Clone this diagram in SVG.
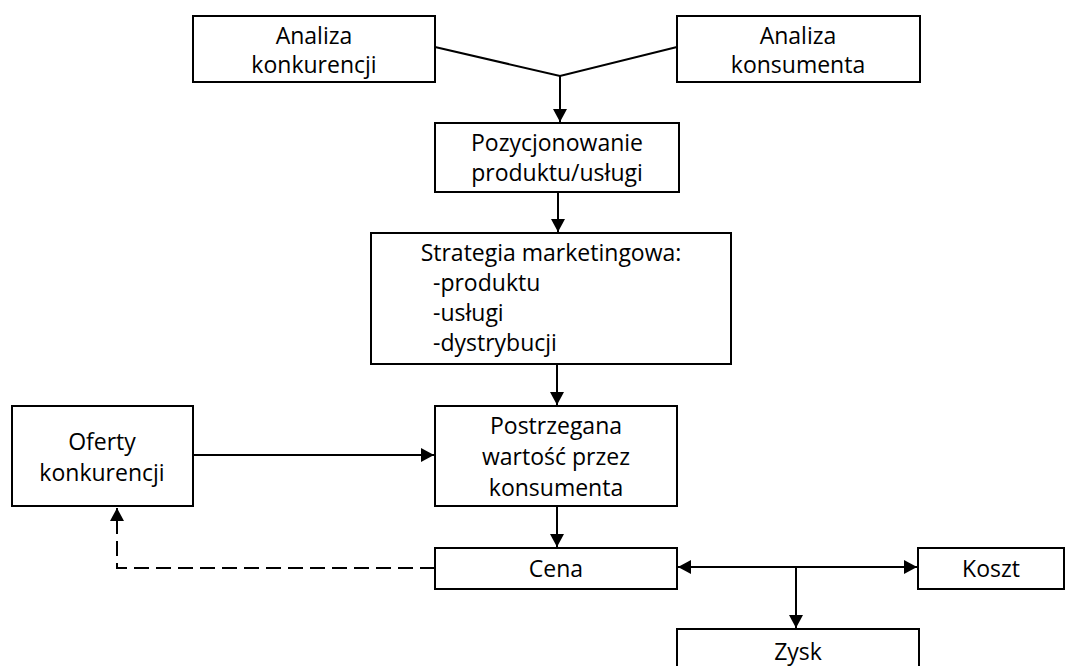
<svg xmlns="http://www.w3.org/2000/svg" width="1077" height="666" viewBox="0 0 1077 666">
  <style>
    .box { fill: #ffffff; stroke: #000000; stroke-width: 2; }
    .lbl { font-family: "Open Sans", Lato, "Liberation Sans", sans-serif; font-size: 23px; fill: #000000; text-anchor: middle; }
    .lft { text-anchor: start; }
    .ln { fill: none; stroke: #000000; stroke-width: 2; }
    .dash { stroke-dasharray: 15 7; }
  </style>
  <defs>
    <marker id="arr" viewBox="0 0 13 14" refX="13" refY="7" markerWidth="13" markerHeight="14" markerUnits="userSpaceOnUse" orient="auto-start-reverse">
      <path d="M0,0 L13,7 L0,14 Z" fill="#000000"/>
    </marker>
  </defs>
  <rect width="1077" height="666" fill="#ffffff"/>

  <g id="connectors">
    <polyline class="ln" points="435,47 560,76 677,47"/>
    <line class="ln" x1="560" y1="76" x2="560" y2="122" marker-end="url(#arr)"/>
    <line class="ln" x1="558" y1="192" x2="558" y2="232" marker-end="url(#arr)"/>
    <line class="ln" x1="557" y1="364" x2="557" y2="405" marker-end="url(#arr)"/>
    <line class="ln" x1="193" y1="455" x2="434" y2="455" marker-end="url(#arr)"/>
    <line class="ln" x1="557" y1="506" x2="557" y2="547" marker-end="url(#arr)"/>
    <line class="ln" x1="678" y1="567" x2="917" y2="567" marker-start="url(#arr)" marker-end="url(#arr)"/>
    <line class="ln" x1="796" y1="567" x2="796" y2="628" marker-end="url(#arr)"/>
    <polyline class="ln dash" points="435,568 117,568 117,508" marker-end="url(#arr)"/>
  </g>

  <g id="analiza-konkurencji">
    <rect class="box" x="193" y="16" width="242" height="66"/>
    <text class="lbl" x="314" y="44">Analiza</text>
    <text class="lbl" x="314" y="73">konkurencji</text>
  </g>
  <g id="analiza-konsumenta">
    <rect class="box" x="677" y="16" width="243" height="66"/>
    <text class="lbl" x="798" y="44">Analiza</text>
    <text class="lbl" x="798" y="73">konsumenta</text>
  </g>
  <g id="pozycjonowanie">
    <rect class="box" x="435" y="123" width="244" height="69"/>
    <text class="lbl" x="557" y="151">Pozycjonowanie</text>
    <text class="lbl" x="557" y="181">produktu/usługi</text>
  </g>
  <g id="strategia">
    <rect class="box" x="371" y="233" width="360" height="131"/>
    <text class="lbl" x="551" y="261">Strategia marketingowa:</text>
    <text class="lbl lft" x="433" y="291">-produktu</text>
    <text class="lbl lft" x="433" y="321">-usługi</text>
    <text class="lbl lft" x="433" y="351">-dystrybucji</text>
  </g>
  <g id="oferty">
    <rect class="box" x="12" y="406" width="181" height="100"/>
    <text class="lbl" x="102" y="450">Oferty</text>
    <text class="lbl" x="102" y="481">konkurencji</text>
  </g>
  <g id="postrzegana">
    <rect class="box" x="435" y="406" width="242" height="100"/>
    <text class="lbl" x="556" y="434">Postrzegana</text>
    <text class="lbl" x="556" y="465">wartość przez</text>
    <text class="lbl" x="556" y="496">konsumenta</text>
  </g>
  <g id="cena">
    <rect class="box" x="435" y="548" width="242" height="41"/>
    <text class="lbl" x="556" y="577">Cena</text>
  </g>
  <g id="koszt">
    <rect class="box" x="918" y="548" width="146" height="41"/>
    <text class="lbl" x="991" y="577">Koszt</text>
  </g>
  <g id="zysk">
    <rect class="box" x="677" y="629" width="242" height="50"/>
    <text class="lbl" x="798" y="660">Zysk</text>
  </g>
</svg>
